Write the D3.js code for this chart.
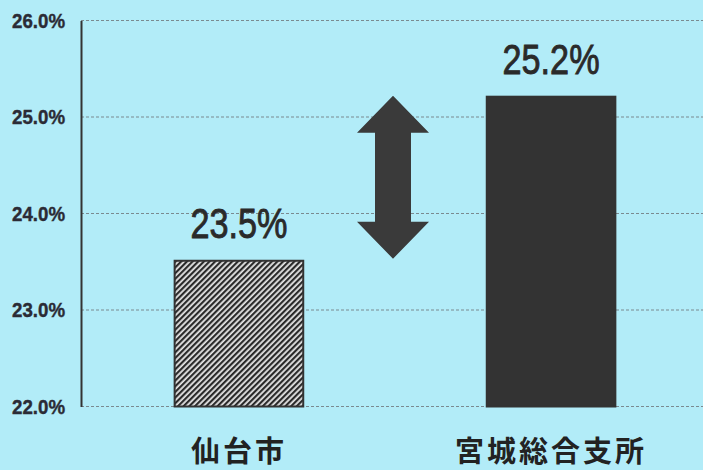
<!DOCTYPE html>
<html><head><meta charset="utf-8">
<script src="https://cdn.jsdelivr.net/npm/d3@7"></script>
<style>
html,body{margin:0;padding:0;background:#b2ecf8;}
svg{display:block;}
</style></head>
<body>
<svg id="c" width="703" height="470"></svg>
<script>
const categories = ["仙台市", "宮城総合支所"];
const values = [23.5, 25.2];
const valueLabels = ["23.5%", "25.2%"];
const yTicks = [22, 23, 24, 25, 26];
const yDomain = [22, 26];

const W = 703, H = 470;
const SANS = "'Liberation Sans',Arial,sans-serif";
const svg = d3.select("#c");
svg.append("rect").attr("width", W).attr("height", H).attr("fill", "#b2ecf8");

const defs = svg.append("defs");
const pat = defs.append("pattern").attr("id", "hatch").attr("patternUnits", "userSpaceOnUse")
  .attr("width", 4).attr("height", 4).attr("patternTransform", "rotate(45)");
pat.append("rect").attr("width", 4).attr("height", 4).attr("fill", "#e6e6e6");
pat.append("rect").attr("width", 2.2).attr("height", 4).attr("fill", "#2a2a2a");

const x = d3.scaleBand().domain(categories).range([81, 709]).paddingInner(0.588).paddingOuter(0.30);
const y = d3.scaleLinear().domain(yDomain).range([406.5, 20.5]);

// gridlines
svg.append("g").selectAll("line").data(yTicks).join("line")
  .attr("x1", 81).attr("x2", W)
  .attr("y1", d => y(d)).attr("y2", d => y(d))
  .attr("stroke", "#7a8a90").attr("stroke-width", 1).attr("stroke-dasharray", "3,2");

// y axis
const yAxis = d3.axisLeft(y).tickValues(yTicks).tickSize(0).tickPadding(16)
  .tickFormat(d => d3.format(".1f")(d) + "%");
const ga = svg.append("g").attr("transform", "translate(81,0)").call(yAxis);
ga.select(".domain").attr("stroke", "#333").attr("stroke-width", 2);
ga.selectAll("text").attr("font-family", SANS)
  .attr("font-weight", "bold").attr("font-size", 21).attr("fill", "#2b2b35")
  .attr("stroke", "#2b2b35").attr("stroke-width", 0.4)
  .attr("textLength", 53).attr("lengthAdjust", "spacingAndGlyphs");

// bars
const fills = ["url(#hatch)", "#333333"];
svg.append("g").selectAll("rect").data(categories).join("rect")
  .attr("x", d => x(d)).attr("width", x.bandwidth())
  .attr("y", (d, i) => y(values[i]) - 1).attr("height", (d, i) => y(yDomain[0]) - y(values[i]) + 1)
  .attr("fill", (d, i) => fills[i]).attr("stroke", "#333").attr("stroke-width", 2);

// value labels
svg.append("g").selectAll("text").data(categories).join("text")
  .attr("x", d => x(d) + x.bandwidth() / 2)
  .attr("y", (d, i) => y(values[i]) - 24)
  .attr("text-anchor", "middle")
  .attr("font-family", SANS)
  .attr("font-size", 42).attr("fill", "#2a2a2a")
  .attr("stroke", "#2a2a2a").attr("stroke-width", 0.9)
  .attr("textLength", 97).attr("lengthAdjust", "spacingAndGlyphs")
  .text((d, i) => valueLabels[i]);

// category labels
svg.append("g").selectAll("text").data(categories).join("text")
  .attr("x", d => x(d) + x.bandwidth() / 2)
  .attr("y", 462)
  .attr("text-anchor", "middle")
  .attr("font-family", "'Noto Sans CJK JP',sans-serif")
  .attr("font-weight", "bold").attr("font-size", 29).attr("letter-spacing", 3)
  .attr("fill", "#222")
  .text(d => d);

// double arrow between the two values
const ax = (x(categories[0]) + x.bandwidth() + x(categories[1])) / 2 - 2;
const yTop = y(values[1]) - 2, yBot = y(values[0]) - 3;
const hw = 36, sw = 18, hh = 37;
const pts = [
  [ax, yTop], [ax + hw, yTop + hh], [ax + sw, yTop + hh], [ax + sw, yBot - hh],
  [ax + hw, yBot - hh], [ax, yBot], [ax - hw, yBot - hh], [ax - sw, yBot - hh],
  [ax - sw, yTop + hh], [ax - hw, yTop + hh]
];
svg.append("path").attr("d", d3.line()(pts) + "Z").attr("fill", "#3a3a3a");
</script>
</body></html>
